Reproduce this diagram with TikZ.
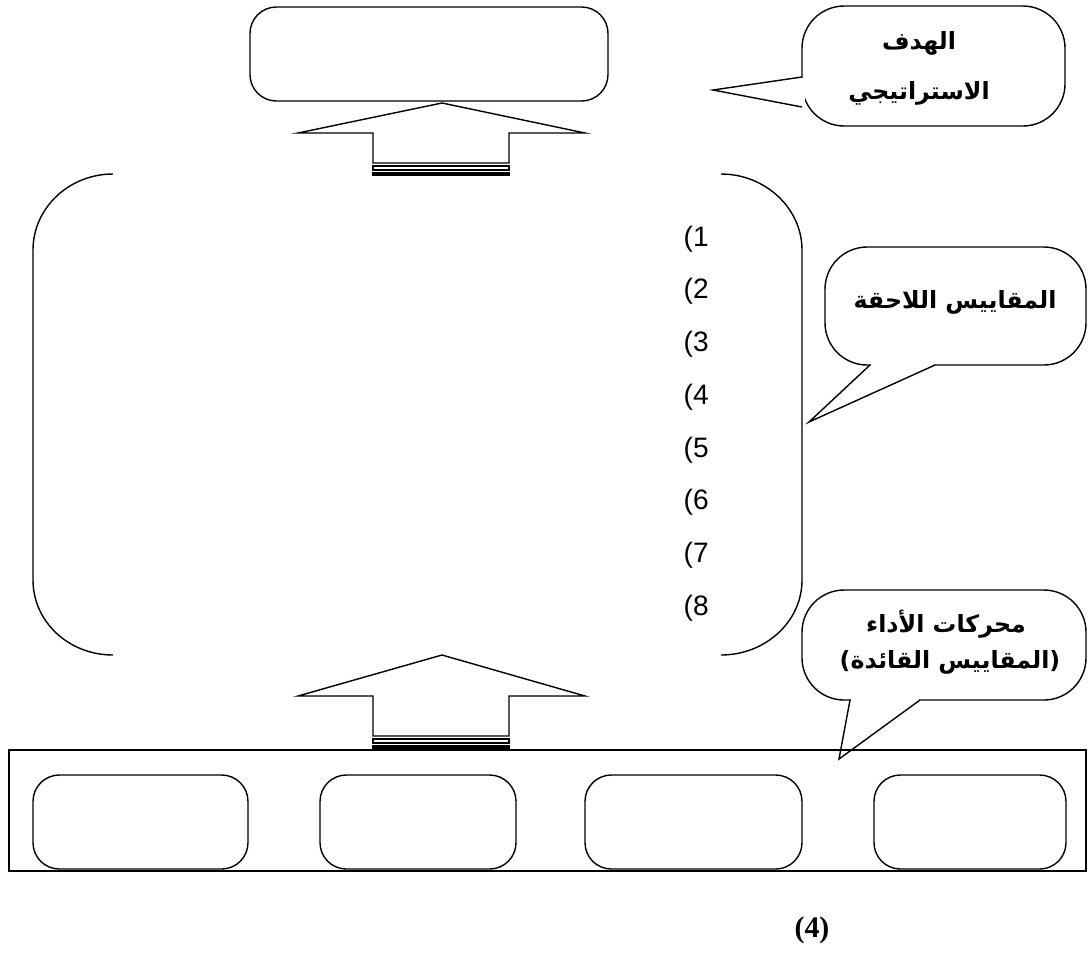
\documentclass[tikz,border=0pt]{standalone}
\usepackage{fontspec}
\setmainfont{Liberation Sans}
\newfontfamily\arabicfont[Script=Arabic]{DejaVu Sans}
\newfontfamily\piefont{Liberation Serif}
\TeXXeTstate=1

\tikzset{
    caja/.style={draw, rounded corners=15},
    globo/.style={draw, rounded corners=24},
    texto/.style={inner sep=0pt, font=\arabicfont\bfseries\fontsize{13.5}{16}\selectfont},
    numero/.style={anchor=west, inner sep=0pt, font=\fontsize{16}{19}\selectfont},
    pie/.style={inner sep=0pt, font=\piefont\bfseries\fontsize{17}{20}\selectfont}
}

\begin{document}
\begin{tikzpicture}[x=0.02cm, y=-0.02cm, line width=0.8pt]
    %marco
    \useasboundingbox (0,0) rectangle (1088,958);

    %caja superior
    \draw[caja] (250,7) rectangle (608,101);

    %flechas
    \foreach \t/\h/\s in {103/133/163, 655/696/736}
    {
        \draw[line join=miter] (442,\t) -- (585,\h) -- (509,\h) -- (509,\s) -- (373,\s) -- (373,\h) -- (298,\h) -- cycle;
        \draw[line width=0.6pt] (373,\s+3) rectangle (509,\s+7);
        \draw[line width=0.6pt] (373,\s+10) rectangle (509,\s+12);
    }

    %corchetes
    \draw (113,174) .. controls (69,174) and (33,208) .. (33,250) -- (33,580) .. controls (33,622) and (69,655) .. (113,655);
    \draw (721,174) .. controls (765,174) and (802,208) .. (802,250) -- (802,580) .. controls (802,622) and (765,655) .. (721,655);

    %numeracion
    \foreach \n in {1,...,8}
        \node[numero] (m\n) at (683,{239+(\n-1)*52.7}) {(\n};

    %globo 1
    \coordinate (p1) at (713,90);
    \draw[globo] (802,6) rectangle (1065,126);
    \fill[white] (799,78) rectangle (805,106);
    \draw (802,77) -- (p1) -- (802,107);
    \node[texto] (hdf1) at (919,43) {\beginR الهدف\endR};
    \node[texto] (hdf2) at (919,93) {\beginR الاستراتيجي\endR};

    %globo 2
    \coordinate (p2) at (809,422);
    \draw[globo] (825,247) rectangle (1086,365);
    \fill[white] (871,362) rectangle (934,368);
    \draw (870,365) -- (p2) -- (935,365);
    \node[texto] (lag) at (955,302) {\beginR المقاييس اللاحقة\endR};

    %globo 3
    \coordinate (p3) at (839,759);
    \draw[globo] (802,590) rectangle (1086,700);
    \fill[white] (851,697) rectangle (919,703);
    \draw (850,700) -- (p3) -- (920,700);
    \node[texto] (mot1) at (946,624) {\beginR محركات الأداء\endR};
    \node[texto] (mot2) at (950,662) {\beginR (المقاييس القائدة)\endR};

    %contenedor inferior
    \draw (9,750) rectangle (1086,871);
    \foreach \a/\b in {33/248, 320/516, 585/802, 874/1066}
        \draw[caja] (\a,775) rectangle (\b,869);

    \node[pie] (fig) at (812,930) {(4)};
\end{tikzpicture}
\end{document}
